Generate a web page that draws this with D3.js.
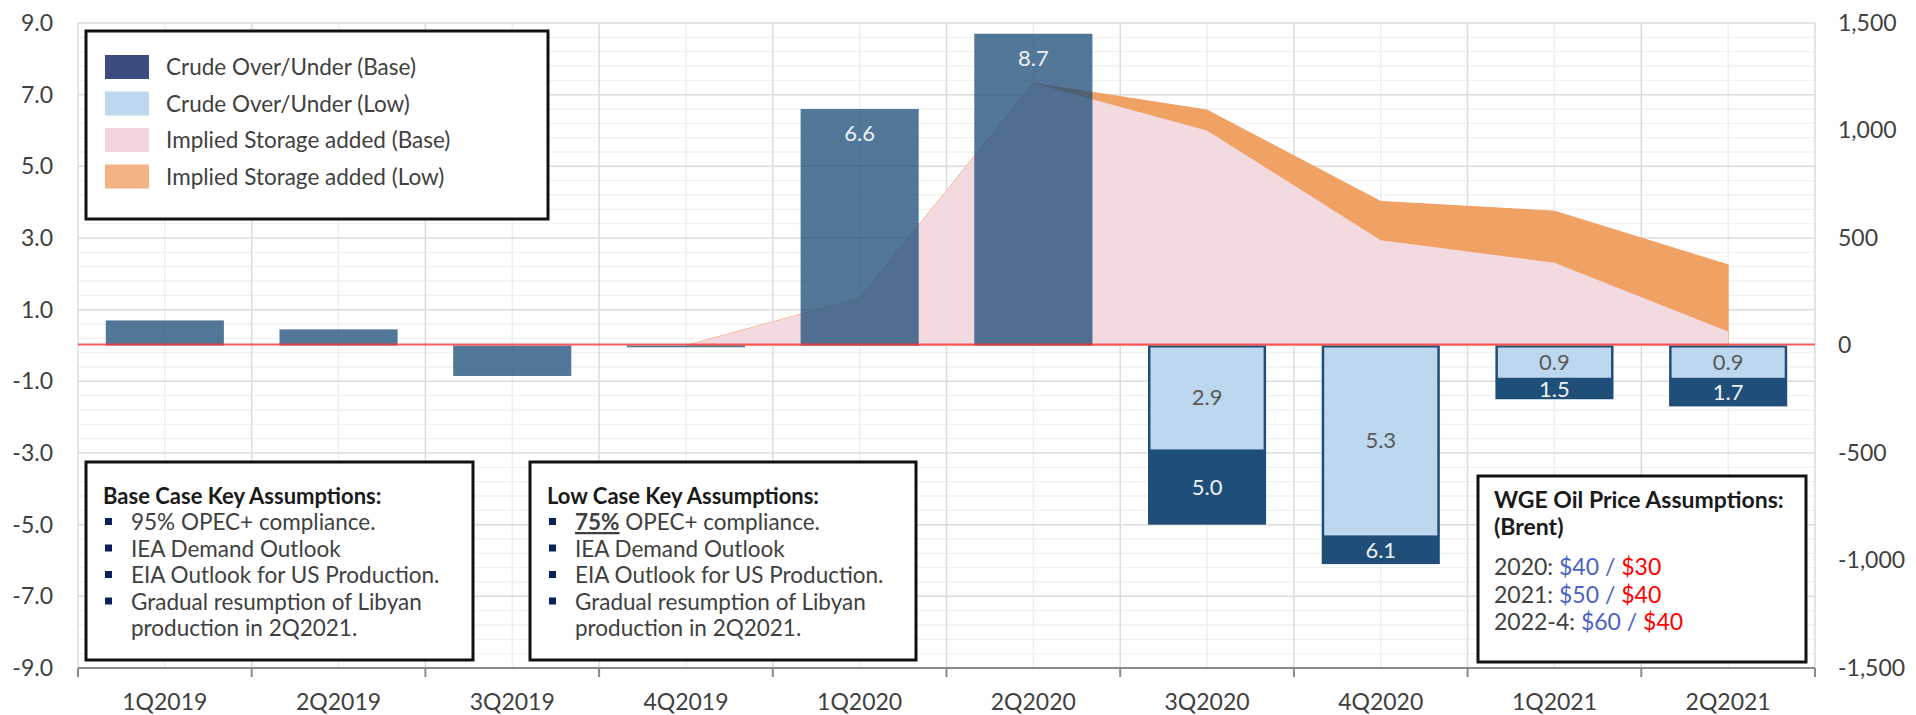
<!DOCTYPE html>
<html>
<head>
<meta charset="utf-8">
<script src="https://cdn.jsdelivr.net/npm/d3@7"></script>
<style>
  body { margin: 0; background: #fff; }
  svg { display: block; font-family: Lato, 'Open Sans', sans-serif; }
</style>
</head>
<body>
<svg width="1916" height="715"></svg>
<script>
(function (d3) {
  'use strict';

  // chart data
  const quarters = ['1Q2019', '2Q2019', '3Q2019', '4Q2019', '1Q2020', '2Q2020', '3Q2020', '4Q2020', '1Q2021', '2Q2021'];
  const crudeBase = [0.7, 0.45, -0.85, -0.05, 6.6, 8.7, -5.0, -6.1, -1.5, -1.7];
  const crudeLow = [null, null, null, null, null, null, -2.9, -5.3, -0.9, -0.9];
  const storageBase = [null, null, null, 0, 220, 1220, 1000, 490, 385, 65];
  const storageLow = [null, null, null, 0, 220, 1220, 1095, 670, 625, 375];
  const leftTicks = [9, 7, 5, 3, 1, -1, -3, -5, -7, -9];
  const rightTicks = [1500, 1000, 500, 0, -500, -1000, -1500];

  const legendLabels = ['Crude Over/Under (Base)', 'Crude Over/Under (Low)', 'Implied Storage added (Base)', 'Implied Storage added (Low)'];
  const legendColors = ['#3c4c7e', '#bdd7ee', '#f2d4dd', '#f4b183'];

  const baseCaseNotes = ['95% OPEC+ compliance.', 'IEA Demand Outlook', 'EIA Outlook for US Production.', 'Gradual resumption of Libyan', 'production in 2Q2021.'];
  const lowCaseNotes = ['75%| OPEC+ compliance.', 'IEA Demand Outlook', 'EIA Outlook for US Production.', 'Gradual resumption of Libyan', 'production in 2Q2021.'];
  const priceYears = ['2020', '2021', '2022-4'];
  const priceBase = ['$40', '$50', '$60'];
  const priceLow = ['$30', '$40', '$40'];

  const svg = d3.select('svg');
  const width = +svg.attr('width');
  const height = +svg.attr('height');
  const margin = { top: 23, right: 101, bottom: 47, left: 78 };
  const innerWidth = width - margin.left - margin.right;
  const innerHeight = height - margin.top - margin.bottom;

  const navy = '#1f4e79';
  const textColor = '#404040';
  const minusFix = s => s.replace('\u2212', '-');

  const xScale = d3.scaleBand().domain(quarters).range([0, innerWidth]).padding(0);
  const yLeft = d3.scaleLinear().domain([-9, 9]).range([innerHeight, 0]);
  const yRight = d3.scaleLinear().domain([-1500, 1500]).range([innerHeight, 0]);
  const cx = q => xScale(q) + xScale.bandwidth() / 2;
  const barWidth = xScale.bandwidth() * 0.68;

  const g = svg.append('g').attr('transform', `translate(${margin.left},${margin.top})`);

  // gridlines
  const grid = g.append('g').attr('class', 'grid');
  grid.selectAll('.minor-h').data(d3.range(-9, 9.001, 0.4).filter(v => Math.abs((v + 9) % 2) > 0.01 && Math.abs((v + 9) % 2 - 2) > 0.01))
    .enter().append('line')
      .attr('x1', 0).attr('x2', innerWidth)
      .attr('y1', d => yLeft(d)).attr('y2', d => yLeft(d))
      .attr('stroke', '#f1f1f1').attr('stroke-width', 1.3);
  grid.selectAll('.minor-v').data(quarters)
    .enter().append('line')
      .attr('x1', d => cx(d)).attr('x2', d => cx(d))
      .attr('y1', 0).attr('y2', innerHeight)
      .attr('stroke', '#ededed').attr('stroke-width', 1.3);
  grid.selectAll('.major-h').data(leftTicks)
    .enter().append('line')
      .attr('x1', 0).attr('x2', innerWidth)
      .attr('y1', d => yLeft(d)).attr('y2', d => yLeft(d))
      .attr('stroke', '#dcdcdc').attr('stroke-width', 1.5);
  grid.selectAll('.major-v').data(quarters.map(q => xScale(q)).concat([innerWidth]))
    .enter().append('line')
      .attr('x1', d => d).attr('x2', d => d)
      .attr('y1', 0).attr('y2', innerHeight)
      .attr('stroke', '#dcdcdc').attr('stroke-width', 1.5);

  // storage areas on right axis
  const area = d3.area()
    .defined(d => d.v !== null)
    .x(d => cx(d.q))
    .y0(yRight(0))
    .y1(d => yRight(d.v));

  g.append('path')
    .datum(quarters.map((q, i) => ({ q, v: storageLow[i] })))
    .attr('d', area)
    .attr('fill', '#f0a164')
    .attr('stroke', '#f0a164')
    .attr('stroke-width', 1);

  g.append('path')
    .datum(quarters.map((q, i) => ({ q, v: storageBase[i] })))
    .attr('d', area)
    .attr('fill', '#f3d9e0');

  // crude bars
  const bars = quarters.map((q, i) => ({ q, base: crudeBase[i], low: crudeLow[i] }));

  g.selectAll('.base-bar').data(bars)
    .enter().append('rect')
      .attr('class', 'base-bar')
      .attr('x', d => cx(d.q) - barWidth / 2)
      .attr('width', barWidth)
      .attr('y', d => Math.min(yLeft(0), yLeft(d.base)))
      .attr('height', d => Math.max(1.5, Math.abs(yLeft(d.base) - yLeft(0))))
      .attr('fill', navy)
      .attr('fill-opacity', d => d.low === null ? 0.77 : 1);

  const lowBars = bars.filter(d => d.low !== null);
  const inset = 2.5;
  g.selectAll('.low-bar').data(lowBars)
    .enter().append('rect')
      .attr('class', 'low-bar')
      .attr('x', d => cx(d.q) - barWidth / 2 + inset)
      .attr('width', barWidth - inset * 2)
      .attr('y', yLeft(0) + 2)
      .attr('height', d => yLeft(d.low) - yLeft(0) - 2)
      .attr('fill', '#bdd7ee');

  // zero line
  g.append('line')
    .attr('x1', 0).attr('x2', innerWidth)
    .attr('y1', yLeft(0) - 1).attr('y2', yLeft(0) - 1)
    .attr('stroke', '#ff3030').attr('stroke-opacity', 0.8).attr('stroke-width', 2);

  // bar labels
  const labelled = bars.filter(d => Math.abs(d.base) >= 1);
  g.selectAll('.base-label').data(labelled)
    .enter().append('text')
      .attr('x', d => cx(d.q))
      .attr('y', d => {
        if (d.base > 0) return yLeft(d.base) + 32;
        const top = d.low === null ? yLeft(0) : yLeft(d.low);
        return (top + yLeft(d.base)) / 2 + 8;
      })
      .attr('text-anchor', 'middle')
      .attr('font-size', 22)
      .attr('fill', '#eef2f7')
      .text(d => Math.abs(d.base).toFixed(1));

  g.selectAll('.low-label').data(lowBars)
    .enter().append('text')
      .attr('x', d => cx(d.q))
      .attr('y', d => (yLeft(0) + yLeft(d.low)) / 2 + 8)
      .attr('text-anchor', 'middle')
      .attr('font-size', 22)
      .attr('fill', '#595959')
      .text(d => Math.abs(d.low).toFixed(1));

  // axes
  const leftAxis = d3.axisLeft(yLeft)
    .tickValues(leftTicks)
    .tickFormat(d => minusFix(d3.format('.1f')(d)))
    .tickSize(0)
    .tickPadding(25);
  const leftG = g.append('g').call(leftAxis);
  leftG.select('.domain').remove();
  leftG.selectAll('text').attr('font-size', 23).attr('fill', textColor).attr('font-family', 'Lato');

  const rightAxis = d3.axisRight(yRight)
    .tickValues(rightTicks)
    .tickFormat(d => minusFix(d3.format(',')(d)))
    .tickSize(0)
    .tickPadding(23);
  const rightG = g.append('g').attr('transform', `translate(${innerWidth},0)`).call(rightAxis);
  rightG.select('.domain').remove();
  rightG.selectAll('text').attr('font-size', 23).attr('fill', textColor).attr('font-family', 'Lato');

  const bottomG = g.append('g').attr('transform', `translate(0,${innerHeight})`);
  bottomG.append('line')
    .attr('x1', 0).attr('x2', innerWidth)
    .attr('stroke', '#8a8a8a').attr('stroke-width', 2);
  bottomG.selectAll('.tick-mark').data(quarters.map(q => xScale(q)).concat([innerWidth]))
    .enter().append('line')
      .attr('x1', d => d).attr('x2', d => d)
      .attr('y1', 0).attr('y2', 9)
      .attr('stroke', '#8a8a8a').attr('stroke-width', 2);
  bottomG.selectAll('.tick-label').data(quarters)
    .enter().append('text')
      .attr('x', d => cx(d))
      .attr('y', 42)
      .attr('text-anchor', 'middle')
      .attr('font-size', 23)
      .attr('fill', textColor)
      .text(d => d);

  // boxes
  const box = (x, y, w, h) => {
    const b = svg.append('g').attr('transform', `translate(${x},${y})`);
    b.append('rect')
      .attr('width', w).attr('height', h)
      .attr('fill', '#fff')
      .attr('stroke', '#111').attr('stroke-width', 3);
    return b;
  };

  // legend
  const legend = box(86, 31, 462, 188);
  const items = legend.selectAll('.item').data(legendLabels)
    .enter().append('g')
      .attr('transform', (d, i) => `translate(19,${24 + i * 36.5})`);
  items.append('rect')
    .attr('width', 44).attr('height', 24)
    .attr('fill', (d, i) => legendColors[i]);
  items.append('text')
    .attr('x', 61).attr('y', 20)
    .attr('font-size', 22.5)
    .attr('fill', textColor)
    .text(d => d);

  const notesBox = (x, title, notes) => {
    const b = box(x, 462, x === 86 ? 387 : 386, 198);
    b.append('text')
      .attr('x', 17).attr('y', 42)
      .attr('font-size', 22)
      .attr('font-weight', 'bold')
      .attr('fill', '#1a1a1a')
      .text(title);
    notes.forEach((n, i) => {
      const ty = 68 + i * 26.5;
      if (i < 4) {
        b.append('rect')
          .attr('x', 19).attr('y', ty - 12)
          .attr('width', 7).attr('height', 7)
          .attr('fill', '#0d1f5c');
      }
      const t = b.append('text')
        .attr('x', 45).attr('y', ty)
        .attr('font-size', 22.5)
        .attr('fill', textColor);
      const parts = n.split('|');
      if (parts.length > 1) {
        t.append('tspan').attr('font-weight', 'bold').attr('text-decoration', 'underline').text(parts[0]);
        t.append('tspan').text(parts[1]);
      } else {
        t.text(n);
      }
    });
  };
  notesBox(86, 'Base Case Key Assumptions:', baseCaseNotes);
  notesBox(530, 'Low Case Key Assumptions:', lowCaseNotes);

  const price = box(1478, 476, 328, 186);
  price.append('text')
    .attr('x', 16).attr('y', 32)
    .attr('font-size', 23).attr('font-weight', 'bold').attr('fill', '#1a1a1a')
    .text('WGE Oil Price Assumptions:');
  price.append('text')
    .attr('x', 16).attr('y', 59)
    .attr('font-size', 23).attr('font-weight', 'bold').attr('fill', '#1a1a1a')
    .text('(Brent)');
  priceYears.forEach((yr, i) => {
    const t = price.append('text')
      .attr('x', 16).attr('y', 99 + i * 27.5)
      .attr('font-size', 23);
    t.append('tspan').attr('fill', textColor).text(`${yr}: `);
    t.append('tspan').attr('fill', '#4a62c6').text(priceBase[i]);
    t.append('tspan').attr('fill', '#4a62c6').text(' / ');
    t.append('tspan').attr('fill', '#ff0000').text(priceLow[i]);
  });

}(d3));
</script>
</body>
</html>
